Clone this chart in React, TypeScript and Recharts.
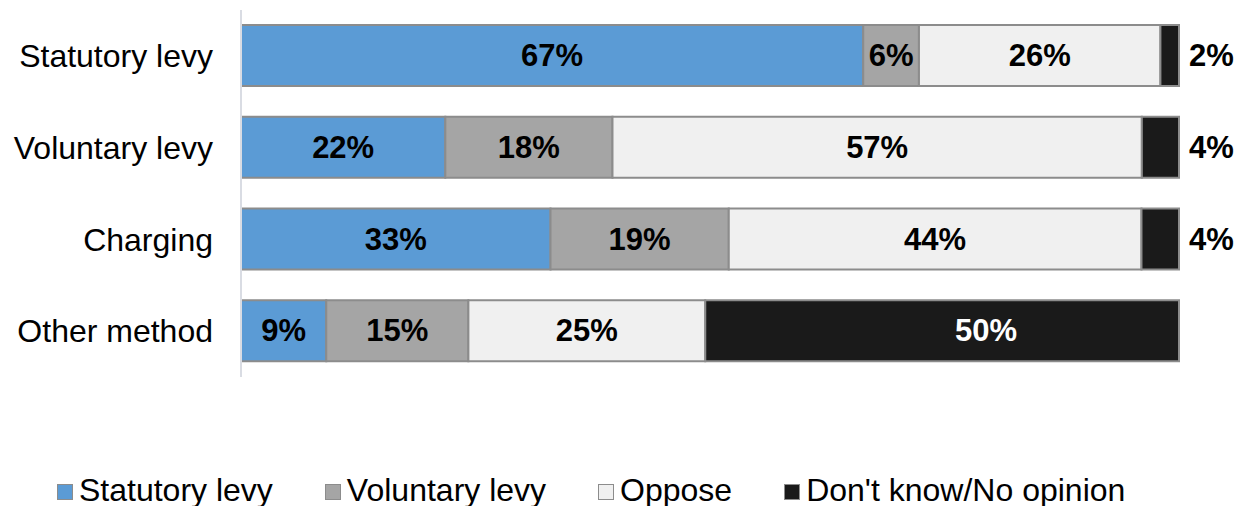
import React from 'react';
import { BarChart, Bar, XAxis, YAxis, Legend, LabelList } from 'recharts';

const categories = ['Statutory levy', 'Voluntary levy', 'Charging', 'Other method'];
const statutoryLevy = [67, 22, 33, 9];
const voluntaryLevy = [6, 18, 19, 15];
const oppose = [26, 57, 44, 25];
const dontKnow = [2, 4, 4, 50];

const series = [
  { key: 'statutory', name: 'Statutory levy', values: statutoryLevy, fill: '#5B9BD5' },
  { key: 'voluntary', name: 'Voluntary levy', values: voluntaryLevy, fill: '#A5A5A5' },
  { key: 'oppose', name: 'Oppose', values: oppose, fill: '#F0F0F0' },
  { key: 'dontKnow', name: "Don't know/No opinion", values: dontKnow, fill: '#1A1A1A' },
];

const data = categories.map((name, i) => {
  const row: Record<string, string | number> = { name };
  series.forEach((s) => {
    row[s.key] = s.values[i];
  });
  return row;
});

const FONT = '"Liberation Sans", Arial, sans-serif';

const InsideLabel = (props: any) => {
  const { x, y, width, height, value } = props;
  return (
    <text
      x={x + width / 2}
      y={y + height / 2}
      textAnchor="middle"
      dominantBaseline="central"
      fontFamily={FONT}
      fontSize={31}
      fontWeight="bold"
      fill="#000"
    >
      {value}%
    </text>
  );
};

const DontKnowLabel = (props: any) => {
  const { x, y, width, height, value } = props;
  const outside = value < 10;
  return (
    <text
      x={outside ? x + width + 10 : x + width / 2 + 44}
      y={y + height / 2}
      textAnchor={outside ? 'start' : 'middle'}
      dominantBaseline="central"
      fontFamily={FONT}
      fontSize={31}
      fontWeight="bold"
      fill={outside ? '#000' : '#fff'}
    >
      {value}%
    </text>
  );
};

const LegendContent = () => (
  <div style={{ display: 'flex', height: 32, lineHeight: '32px', fontFamily: FONT, fontSize: 32, color: '#000', paddingLeft: 57 }}>
    {series.map((s) => (
      <div key={s.key} style={{ display: 'flex', alignItems: 'center', marginRight: 52 }}>
        <span
          style={{
            display: 'inline-block',
            width: 14,
            height: 14,
            marginTop: 4,
            marginRight: 6,
            background: s.fill,
            border: '1px solid #8c8c8c',
          }}
        />
        <span style={{ whiteSpace: 'nowrap' }}>{s.name}</span>
      </div>
    ))}
  </div>
);

export default function App() {
  return (
    <div style={{ position: 'absolute', left: 0, top: 0, width: 1240, height: 506, background: '#fff' }}>
      <BarChart
        width={1240}
        height={506}
        data={data}
        layout="vertical"
        stackOffset="expand"
        barSize={61}
        margin={{ top: 10, right: 61, left: 0, bottom: 97 }}
      >
        <XAxis type="number" hide domain={[0, 1]} />
        <YAxis
          type="category"
          dataKey="name"
          width={241}
          axisLine={{ stroke: '#D9DCE3', strokeWidth: 2 }}
          tickLine={false}
          tickSize={0}
          tickMargin={28}
          tick={{ fill: '#000', fontSize: 32, fontFamily: FONT }}
        />
        <Legend
          verticalAlign="bottom"
          content={<LegendContent />}
          wrapperStyle={{ top: 474, bottom: 'auto', left: 0, width: 1240 }}
        />
        {series.map((s, idx) => (
          <Bar
            key={s.key}
            dataKey={s.key}
            name={s.name}
            stackId="a"
            fill={s.fill}
            stroke="#8C8C8C"
            strokeWidth={2}
            isAnimationActive={false}
          >
            <LabelList dataKey={s.key} content={idx === 3 ? <DontKnowLabel /> : <InsideLabel />} />
          </Bar>
        ))}
      </BarChart>
    </div>
  );
}
